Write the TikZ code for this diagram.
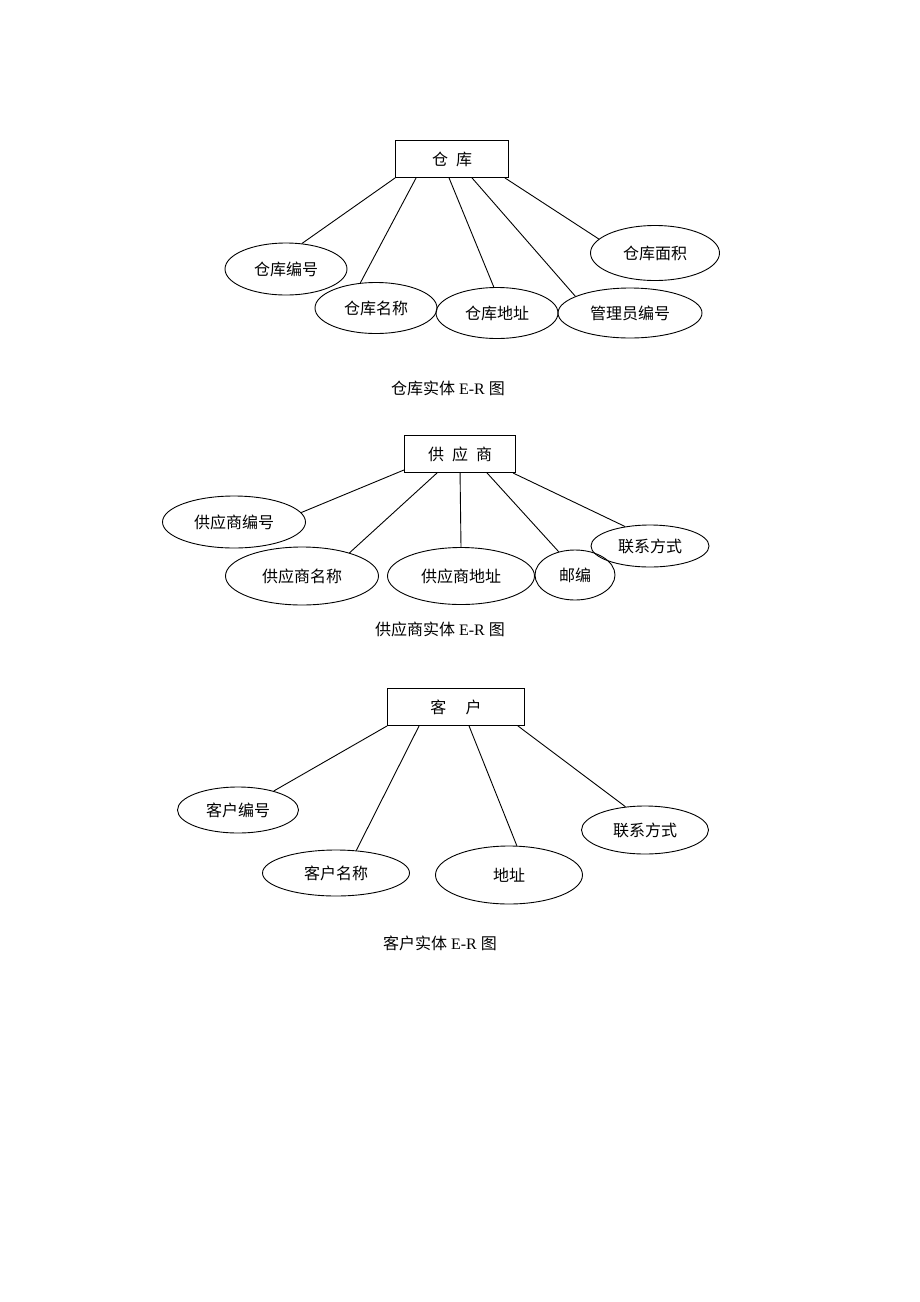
\documentclass[tikz,border=0pt]{standalone}
\usepackage{fontspec}
\setmainfont{Liberation Serif}
\newfontfamily\cjk{Noto Sans CJK SC}
\usetikzlibrary{shapes.geometric}
\begin{document}
\begin{tikzpicture}[x=1pt,y=-1pt,line width=0.9pt,font=\fontsize{16}{19}\selectfont]
        \useasboundingbox (0,0) rectangle (920,1302);

        % entity boxes
        \begin{scope}[every node/.style={draw,rectangle,inner sep=0pt,minimum height=37pt}]
          \node (w) at (452,159) [minimum width=113pt] {\cjk 仓\hspace{0.5em}库};
          \node (s) at (460,454) [minimum width=111pt] {\cjk 供\hspace{0.5em}应\hspace{0.5em}商};
          \node (c) at (456,707) [minimum width=137pt] {\cjk 客\hspace{1.2em}户};
        \end{scope}

        % attributes
        \begin{scope}[every node/.style={draw,ellipse,inner sep=0pt,font=\cjk\fontsize{16}{19}\selectfont}]
          \node (w1) at (286,269) [minimum width=122pt,minimum height=52pt] {仓库编号};
          \node (w2) at (376,308) [minimum width=122pt,minimum height=51pt] {仓库名称};
          \node (w3) at (497,313) [minimum width=122pt,minimum height=51pt] {仓库地址};
          \node (w4) at (630,313) [minimum width=144pt,minimum height=50pt] {管理员编号};
          \node (w5) at (655,253) [minimum width=129pt,minimum height=55pt] {仓库面积};

          \node (s1) at (234,522) [minimum width=143pt,minimum height=52pt] {供应商编号};
          \node (s2) at (302,576) [minimum width=153pt,minimum height=58pt] {供应商名称};
          \node (s3) at (461,576) [minimum width=147pt,minimum height=57pt] {供应商地址};
          \node (s4) at (575,575) [minimum width=80pt,minimum height=50pt] {邮编};
          \node (s5) at (650,546) [minimum width=118pt,minimum height=42pt] {联系方式};

          \node (c1) at (238,810) [minimum width=121pt,minimum height=46pt] {客户编号};
          \node (c2) at (336,873) [minimum width=147pt,minimum height=46pt] {客户名称};
          \node (c3) at (509,875) [minimum width=147pt,minimum height=58pt] {地址};
          \node (c4) at (645,830) [minimum width=127pt,minimum height=48pt] {联系方式};
        \end{scope}

        % captions
        \node (t1) at (448,388) {{\cjk 仓库实体} E-R {\cjk 图}};
        \node (t2) at (440,629) {{\cjk 供应商实体} E-R {\cjk 图}};
        \node (t3) at (440,943) {{\cjk 客户实体} E-R {\cjk 图}};

        \begin{scope}[every edge/.style={draw}]
          \path (w.south west)               edge (w1.58);
          \path ([xshift=21pt]w.south west)  edge (w2.122);
          \path ([xshift=54pt]w.south west)  edge (w3.97);
          \path ([xshift=77pt]w.south west)  edge (w4.163);
          \path ([xshift=-4pt]w.south east)  edge (w5.166);

          \path ([yshift=3pt]s.south west)   edge (s1.8);
          \path ([xshift=33pt]s.south west)  edge (s2.26);
          \path ([xshift=56pt]s.south west)  edge (s3.90);
          \path ([xshift=83pt]s.south west)  edge (s4.125);
          \path ([xshift=-3pt]s.south east)  edge (s5.142);

          \path (c.south west)               edge (c1.28);
          \path ([xshift=32pt]c.south west)  edge (c2.48);
          \path ([xshift=82pt]c.south west)  edge (c3.75);
          \path ([xshift=-7pt]c.south east)  edge (c4.130);
        \end{scope}

      \end{tikzpicture}
\end{document}
